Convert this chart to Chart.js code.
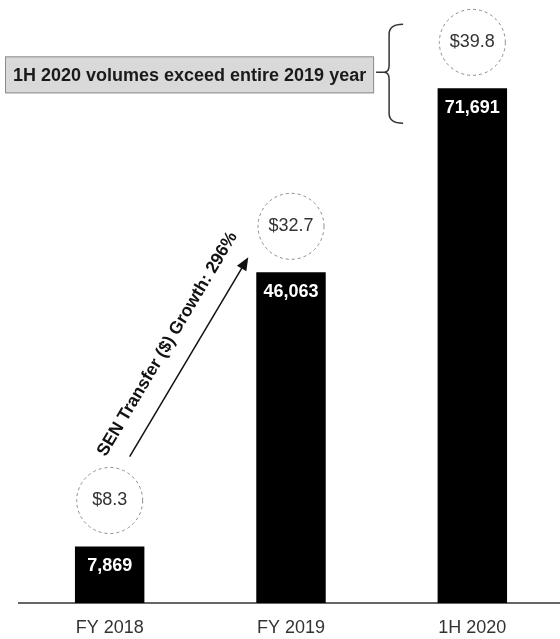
<!DOCTYPE html>
<html>
<head>
<meta charset="utf-8">
<script src="https://cdn.jsdelivr.net/npm/chart.js@4"></script>
<style>
  html, body { margin: 0; padding: 0; background: #fff; overflow: hidden; }
  #wrap { position: absolute; left: 0; top: 0; width: 563px; height: 639px; }
</style>
</head>
<body>
<div id="wrap"><canvas id="volumeChart"></canvas></div>
<script>
const categories = ['FY 2018', 'FY 2019', '1H 2020'];
const volumes = [7869, 46063, 71691];
const transferValues = [8.3, 32.7, 39.8];
const growthText = 'SEN Transfer ($) Growth: 296%';
const calloutText = '1H 2020 volumes exceed entire 2019 year';

const FONT = '"Liberation Sans", Arial, Helvetica, sans-serif';

// labels, dashed value circles, growth arrow and the bracket callout
const overlayPlugin = {
    id: 'overlay',
    afterDatasetsDraw(chart) {
        const ctx = chart.ctx;
        const bars = chart.getDatasetMeta(0).data;
        ctx.save();

        // volume labels inside the bars
        ctx.fillStyle = '#fff';
        ctx.font = `bold 18px ${FONT}`;
        ctx.textAlign = 'center';
        ctx.textBaseline = 'middle';
        bars.forEach((bar, i) => {
            ctx.fillText(volumes[i].toLocaleString('en-US'), bar.x, bar.y + 20);
        });

        // dashed circles with transfer values above each bar
        bars.forEach((bar, i) => {
            const cy = bar.y - 46;
            ctx.beginPath();
            ctx.setLineDash([3, 3]);
            ctx.lineWidth = 1;
            ctx.strokeStyle = '#8a8a8a';
            ctx.arc(bar.x, cy, 33, 0, Math.PI * 2);
            ctx.stroke();
            ctx.setLineDash([]);
            ctx.fillStyle = '#333';
            ctx.font = `18px ${FONT}`;
            ctx.fillText('$' + transferValues[i].toFixed(1), bar.x, cy);
        });

        // growth arrow from FY 2018 circle to FY 2019 bar
        const b0 = bars[0], b1 = bars[1];
        const sx = b0.x + 20, sy = b0.y - 46 - 33 - 11;
        const ex = b1.x - b1.width / 2 - 8, ey = b1.y - 15;
        const ang = Math.atan2(ey - sy, ex - sx);
        ctx.strokeStyle = '#111';
        ctx.fillStyle = '#111';
        ctx.lineWidth = 1.5;
        ctx.beginPath();
        ctx.moveTo(sx, sy);
        ctx.lineTo(ex - 10 * Math.cos(ang), ey - 10 * Math.sin(ang));
        ctx.stroke();
        ctx.save();
        ctx.translate(ex, ey);
        ctx.rotate(ang);
        ctx.beginPath();
        ctx.moveTo(0, 0);
        ctx.lineTo(-13, -5.5);
        ctx.lineTo(-13, 5.5);
        ctx.closePath();
        ctx.fill();
        ctx.restore();

        // rotated growth text alongside the arrow
        const mx = (sx + ex) / 2, my = (sy + ey) / 2;
        const nx = Math.sin(ang), ny = -Math.cos(ang);
        ctx.save();
        ctx.translate(mx + nx * 25, my + ny * 25);
        ctx.rotate(ang);
        ctx.font = `bold 17.5px ${FONT}`;
        ctx.fillStyle = '#111';
        ctx.fillText(growthText, 0, 0);
        ctx.restore();

        // bracket next to the 1H 2020 bar
        const b2 = bars[2];
        const bx = b2.x - b2.width / 2 - 48.5;
        const top = b2.y - 64, bot = b2.y + 35, mid = b2.y - 16;
        ctx.strokeStyle = '#333';
        ctx.lineWidth = 1.5;
        ctx.beginPath();
        ctx.moveTo(bx + 14, top);
        ctx.quadraticCurveTo(bx, top, bx, top + 10);
        ctx.lineTo(bx, mid - 7);
        ctx.quadraticCurveTo(bx, mid, bx - 5, mid);
        ctx.quadraticCurveTo(bx, mid, bx, mid + 7);
        ctx.lineTo(bx, bot - 10);
        ctx.quadraticCurveTo(bx, bot, bx + 14, bot);
        ctx.moveTo(bx - 5, mid);
        ctx.lineTo(bx - 13, mid);
        ctx.stroke();

        // callout box
        const boxL = 5, boxR = bx - 15, boxT = mid - 16, boxB = mid + 21;
        ctx.fillStyle = '#d9d9d9';
        ctx.fillRect(boxL, boxT, boxR - boxL, boxB - boxT);
        ctx.strokeStyle = '#8c8c8c';
        ctx.lineWidth = 1;
        ctx.strokeRect(boxL + 0.5, boxT + 0.5, boxR - boxL - 1, boxB - boxT - 1);
        ctx.fillStyle = '#1a1a1a';
        ctx.font = `bold 18px ${FONT}`;
        ctx.fillText(calloutText, (boxL + boxR) / 2, (boxT + boxB) / 2 + 1);

        ctx.restore();
    }
};

new Chart(document.getElementById('volumeChart'), {
    type: 'bar',
    data: {
        labels: categories,
        datasets: [{
            data: volumes,
            backgroundColor: '#000',
            borderWidth: 0,
            categoryPercentage: 1,
            barPercentage: 0.383
        }]
    },
    options: {
        responsive: true,
        maintainAspectRatio: false,
        animation: false,
        layout: { padding: { left: 19, right: 0, top: 0, bottom: 0 } },
        plugins: {
            legend: { display: false },
            tooltip: { enabled: false }
        },
        scales: {
            x: {
                grid: { display: false, drawTicks: false },
                border: { display: true, color: '#666', width: 2 },
                ticks: { color: '#333', padding: 14, font: { family: FONT, size: 18 } },
                afterFit: (scale) => { scale.height = 36; }
            },
            y: {
                display: false,
                min: 0,
                max: 84000
            }
        }
    },
    plugins: [overlayPlugin]
});
</script>
</body>
</html>
